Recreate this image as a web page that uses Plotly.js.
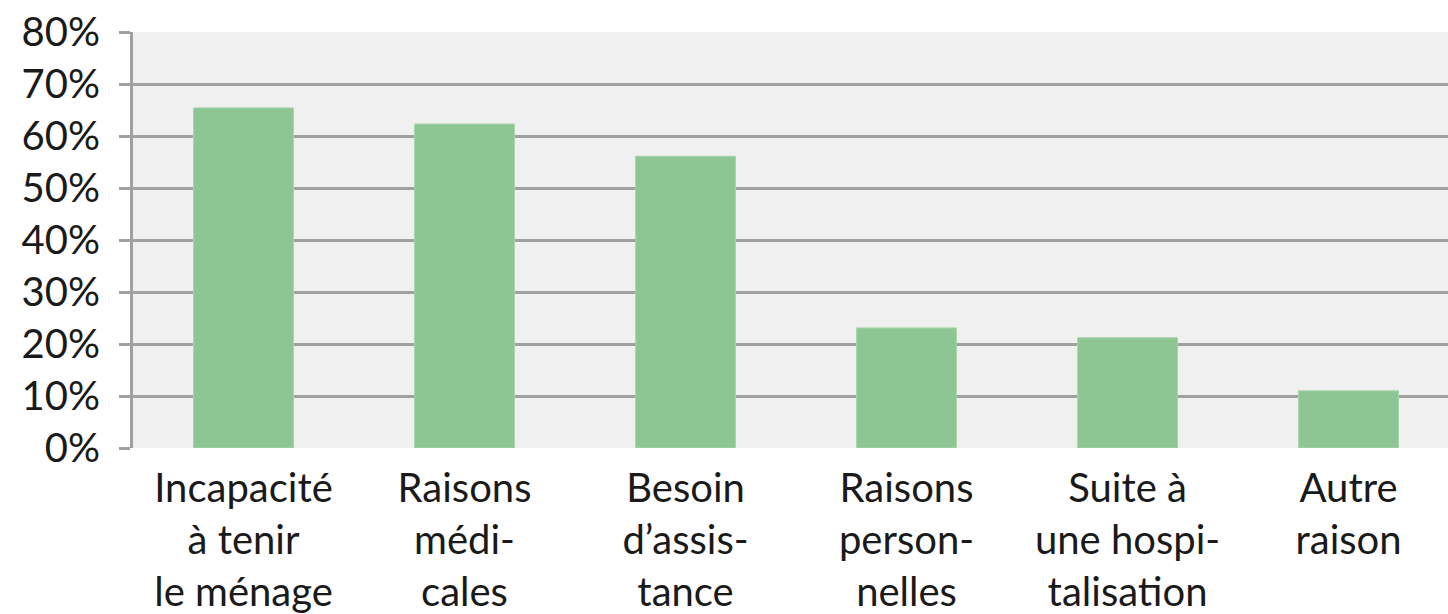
<!DOCTYPE html>
<html>
<head>
<meta charset="utf-8">
<script src="https://cdn.plot.ly/plotly-3.0.1.min.js"></script>
<style>
html,body{margin:0;padding:0;background:#ffffff;overflow:hidden;}
#chart{width:1448px;height:614px;}
</style>
</head>
<body>
<div id="chart"></div>
<script>
var categories = ["Incapacité à tenir le ménage", "Raisons médicales", "Besoin d'assistance", "Raisons personnelles", "Suite à une hospitalisation", "Autre raison"];
var tickLabels = [
  "Incapacité<br>à tenir<br>le ménage",
  "Raisons<br>médi-<br>cales",
  "Besoin<br>d’assis-<br>tance",
  "Raisons<br>person-<br>nelles",
  "Suite à<br>une hospi-<br>talisation",
  "Autre<br>raison"
];
var values = [65.4, 62.3, 56.1, 23.1, 21.2, 11.0];
var yTickVals = [0, 10, 20, 30, 40, 50, 60, 70, 80];
var yTickText = ["0%", "10%", "20%", "30%", "40%", "50%", "60%", "70%", "80%"];

var trace = {
  type: "bar",
  x: categories,
  y: values,
  marker: {color: "#8ec693", line: {color: "#a8d4ab", width: 1}},
  hoverinfo: "skip"
};

var layout = {
  width: 1448,
  height: 614,
  margin: {l: 133, r: 0, t: 32, b: 166, pad: 0},
  paper_bgcolor: "#ffffff",
  plot_bgcolor: "#eff0ef",
  showlegend: false,
  bargap: 0.548,
  font: {family: "Lato, 'Open Sans', sans-serif", color: "#1a1a1a", size: 40},
  xaxis: {
    type: "category",
    range: [-0.5, 5.45],
    tickmode: "array",
    tickvals: categories,
    ticktext: tickLabels,
    showgrid: false,
    zeroline: false,
    showline: false,
    ticks: "",
    ticklabelstandoff: 13,
    tickfont: {size: 40, color: "#1a1a1a"},
    fixedrange: true
  },
  yaxis: {
    range: [0, 80],
    tickmode: "array",
    tickvals: yTickVals,
    ticktext: yTickText,
    showgrid: true,
    gridcolor: "#a0a0a0",
    gridwidth: 3,
    zeroline: false,
    showline: true,
    linecolor: "#a0a0a0",
    linewidth: 3,
    ticks: "outside",
    ticklen: 11,
    tickwidth: 3,
    tickcolor: "#a0a0a0",
    ticklabelstandoff: 11,
    tickfont: {size: 40, color: "#1a1a1a"},
    fixedrange: true
  }
};

Plotly.newPlot("chart", [trace], layout, {displayModeBar: false, staticPlot: true});
</script>
</body>
</html>
